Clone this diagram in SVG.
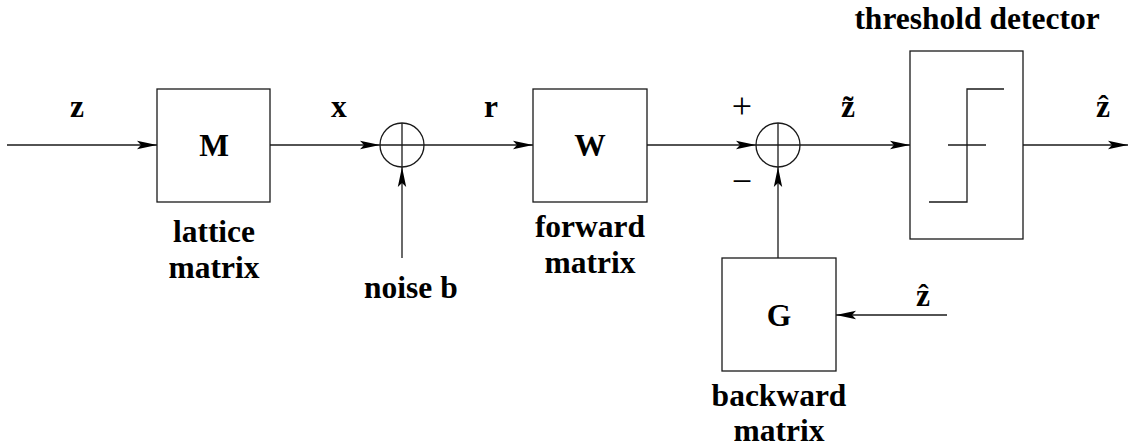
<svg xmlns="http://www.w3.org/2000/svg" width="1129" height="447" viewBox="0 0 1129 447" font-family="Liberation Serif, Times New Roman, DejaVu Serif, serif" font-weight="bold" font-size="31.5">
<style>
.ln{stroke:#1a1a1a;stroke-width:1.3;fill:none}
.bx{stroke:#1a1a1a;stroke-width:1.3;fill:#fff}
text{fill:#000}
.c{text-anchor:middle}
.op{font-weight:normal;text-anchor:middle;font-size:36px}
</style>
<defs>
<marker id="arr" markerUnits="userSpaceOnUse" markerWidth="22" markerHeight="12" refX="20" refY="5" orient="auto">
<path d="M20,5 L0,0.8 L4,5 L0,9.2 Z" fill="#000"/>
</marker>
</defs>
<g id="connectors">
<line class="ln" x1="7" y1="145" x2="157" y2="145" marker-end="url(#arr)"/>
<line class="ln" x1="270" y1="145" x2="380" y2="145" marker-end="url(#arr)"/>
<line class="ln" x1="402" y1="258" x2="402" y2="167" marker-end="url(#arr)"/>
<line class="ln" x1="424" y1="145" x2="533" y2="145" marker-end="url(#arr)"/>
<line class="ln" x1="647" y1="145" x2="756" y2="145" marker-end="url(#arr)"/>
<line class="ln" x1="778" y1="258" x2="778" y2="167" marker-end="url(#arr)"/>
<line class="ln" x1="800" y1="145" x2="910" y2="145" marker-end="url(#arr)"/>
<line class="ln" x1="1023" y1="145" x2="1128" y2="145" marker-end="url(#arr)"/>
<line class="ln" x1="947" y1="315" x2="836" y2="315" marker-end="url(#arr)"/>
</g>
<g id="labels">
<text x="70" y="117">z</text>
<text x="331" y="117">x</text>
<text x="484" y="117">r</text>
<text class="op" x="742" y="118">+</text>
<text class="op" x="742" y="193">−</text>
<text x="841" y="117">z̃</text>
<text x="1096" y="117">ẑ</text>
<text x="916" y="306">ẑ</text>
<text x="364" y="298">noise b</text>
</g>
<g id="M">
<rect class="bx" x="157" y="89" width="113" height="113"/>
<text class="c" x="214" y="156">M</text>
<text class="c" x="214" y="242">lattice</text>
<text class="c" x="214" y="278">matrix</text>
</g>
<g id="sum1">
<circle class="ln" cx="402" cy="145" r="22"/>
<line class="ln" x1="380" y1="145" x2="424" y2="145"/>
<line class="ln" x1="402" y1="123" x2="402" y2="167"/>
</g>
<g id="W">
<rect class="bx" x="533" y="89" width="114" height="113"/>
<text class="c" x="590" y="156">W</text>
<text class="c" x="590" y="237">forward</text>
<text class="c" x="590" y="273">matrix</text>
</g>
<g id="sum2">
<circle class="ln" cx="778" cy="145" r="22"/>
<line class="ln" x1="756" y1="145" x2="800" y2="145"/>
<line class="ln" x1="778" y1="123" x2="778" y2="167"/>
</g>
<g id="G">
<rect class="bx" x="722" y="258" width="114" height="113"/>
<text class="c" x="779" y="326">G</text>
<text class="c" x="779" y="406">backward</text>
<text class="c" x="779" y="441">matrix</text>
</g>
<g id="threshold">
<rect class="bx" x="910" y="51" width="113" height="188"/>
<polyline class="ln" points="929,202 967,202 967,89 1004,89"/>
<line class="ln" x1="948" y1="145" x2="986" y2="145"/>
<text class="c" x="977" y="29">threshold detector</text>
</g>
</svg>
